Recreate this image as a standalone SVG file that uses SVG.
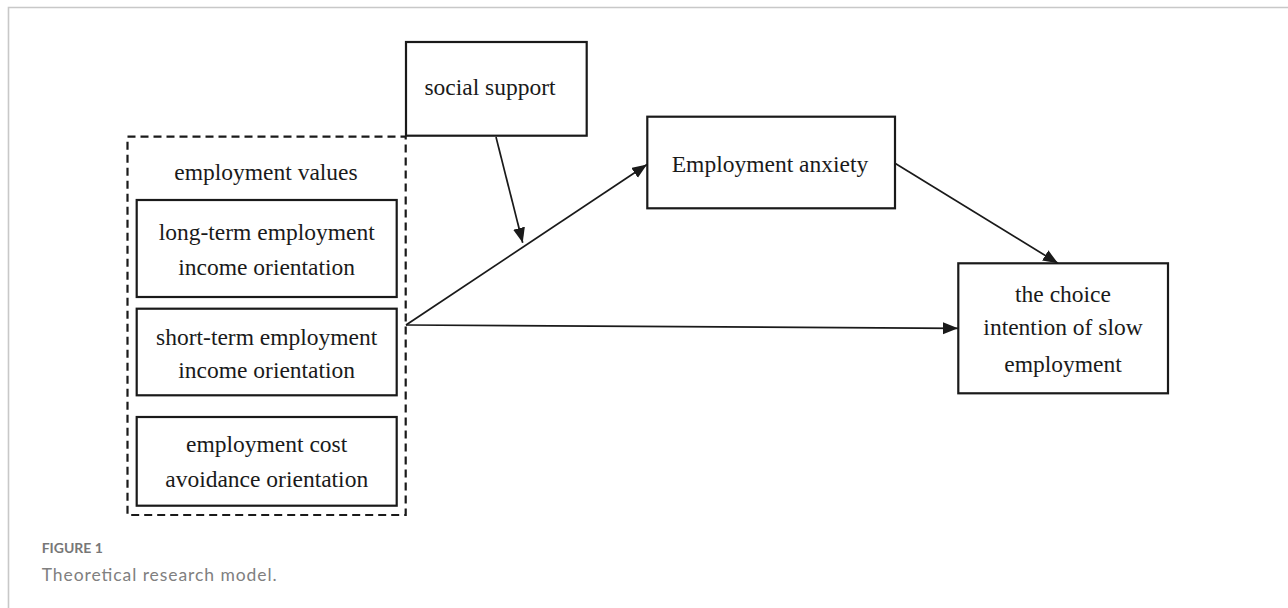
<svg xmlns="http://www.w3.org/2000/svg" width="1288" height="608" viewBox="0 0 1288 608">
<style>
.box{fill:#fff;stroke:#1a1a1a;stroke-width:2.2}
.dash{fill:none;stroke:#1a1a1a;stroke-width:2.2;stroke-dasharray:8 5}
.t{font-family:"Liberation Serif","Times New Roman",serif;font-size:23.5px;fill:#1a1a1a;text-anchor:middle}
.c{stroke:#1a1a1a;stroke-width:1.7;fill:none;marker-end:url(#ah)}
.cap1{font-family:Lato,"Open Sans",sans-serif;font-size:14px;font-weight:700;fill:#777}
.cap2{font-family:Lato,"Open Sans",sans-serif;font-size:17.5px;font-weight:400;fill:#808080}
</style>
<defs>
<marker id="ah" markerUnits="userSpaceOnUse" markerWidth="16" markerHeight="13" refX="15" refY="6" orient="auto">
<path d="M0,0 L15,6 L0,12 z" fill="#1a1a1a"/>
</marker>
</defs>
<rect width="1288" height="608" fill="#fff"/>
<path d="M8.5,608 L8.5,7.5 L1288,7.5" fill="none" stroke="#c8c8c8" stroke-width="1.6"/>
<g id="employment-values">
<rect class="dash" x="127.5" y="136.7" width="278.2" height="378.3"/>
<text class="t" x="266" y="180">employment values</text>
</g>
<g id="long-term">
<rect class="box" x="136.7" y="200" width="260" height="97"/>
<text class="t" x="266.7" y="240">long-term employment</text>
<text class="t" x="266.7" y="275">income orientation</text>
</g>
<g id="short-term">
<rect class="box" x="136.7" y="308.7" width="260" height="86.6"/>
<text class="t" x="266.7" y="345">short-term employment</text>
<text class="t" x="266.7" y="378">income orientation</text>
</g>
<g id="cost-avoidance">
<rect class="box" x="136.7" y="417" width="260" height="88.7"/>
<text class="t" x="266.7" y="451.7">employment cost</text>
<text class="t" x="266.7" y="486.7">avoidance orientation</text>
</g>
<g id="social-support">
<rect class="box" x="406" y="42" width="180.7" height="93.7"/>
<text class="t" x="490" y="95">social support</text>
</g>
<g id="employment-anxiety">
<rect class="box" x="647.3" y="116.7" width="247.7" height="91.6"/>
<text class="t" x="770" y="171.7">Employment anxiety</text>
</g>
<g id="slow-employment">
<rect class="box" x="958.3" y="263.3" width="209.7" height="130"/>
<text class="t" x="1063" y="301.7">the choice</text>
<text class="t" x="1063" y="335">intention of slow</text>
<text class="t" x="1063" y="371.7">employment</text>
</g>
<g id="connectors">
<line class="c" x1="496" y1="137" x2="522.7" y2="242.7"/>
<line class="c" x1="406" y1="325" x2="647" y2="164.5"/>
<line class="c" x1="406" y1="325" x2="958" y2="328.3"/>
<line class="c" x1="895" y1="163.3" x2="1058" y2="263.3"/>
</g>
<g id="caption">
<text class="cap1" x="41.7" y="553">FIGURE 1</text>
<text class="cap2" x="41.7" y="580.7" textLength="235" lengthAdjust="spacing">Theoretical research model.</text>
</g>
</svg>
